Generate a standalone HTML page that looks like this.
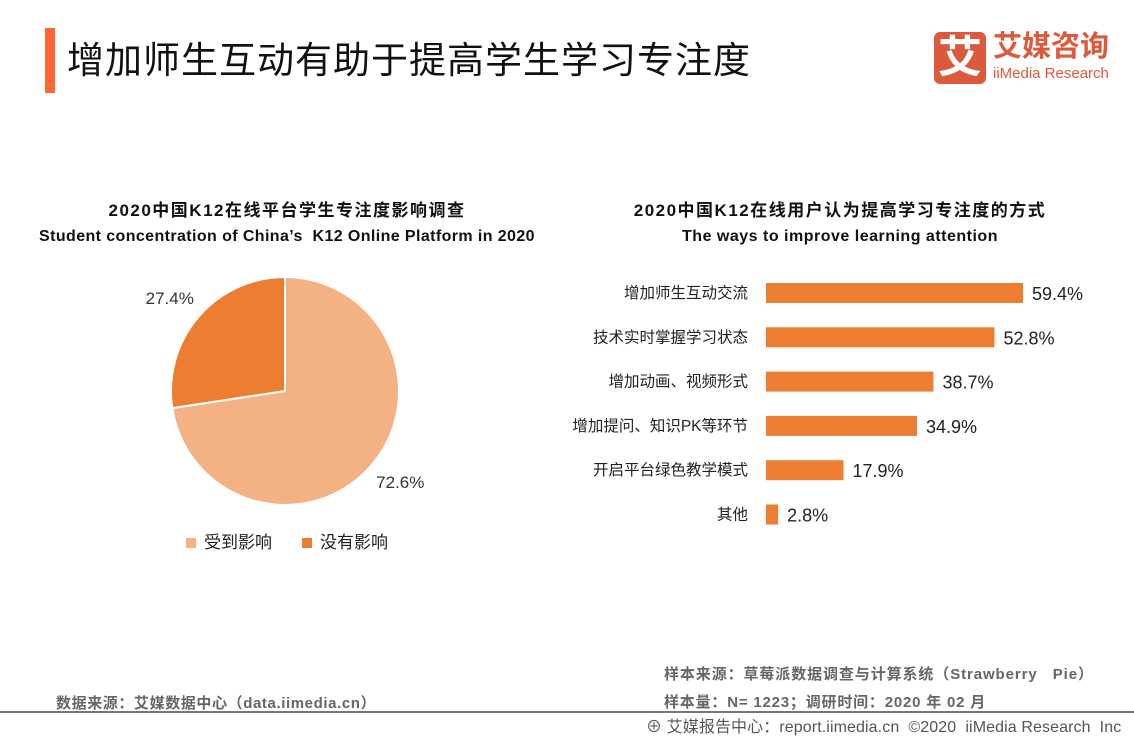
<!DOCTYPE html>
<html><head><meta charset="utf-8"><style>
body{margin:0;width:1134px;height:737px;background:#fff;overflow:hidden;position:relative;font-family:"Liberation Sans","Noto Sans CJK SC",sans-serif;}
.a{position:absolute;white-space:nowrap;}
</style></head><body>
<div class="a" style="left:45px;top:28px;width:10px;height:65px;background:#FF6633"></div>
<div class="a" style="left:67px;top:38px;font-size:37px;line-height:46px;color:#111;letter-spacing:1px">增加师生互动有助于提高学生学习专注度</div>
<div class="a" style="left:934px;top:32px;width:52px;height:52px;background:#DB5A3C;border-radius:6px;color:#fff;font-size:44px;line-height:52px;text-align:center;font-weight:bold">艾</div>
<div class="a" style="left:993px;top:30px;font-size:29px;line-height:34px;color:#DB5A3C;font-weight:bold">艾媒咨询</div>
<div class="a" style="left:993px;top:65px;font-size:15px;line-height:18px;color:#DB5A3C">iiMedia Research</div>

<div class="a" style="left:0;width:574px;text-align:center;top:196px;font-size:17px;letter-spacing:1.5px;font-weight:bold;color:#111">2020中国K12在线平台学生专注度影响调查</div>
<div class="a" style="left:0;width:574px;text-align:center;top:228px;font-size:16px;letter-spacing:0.4px;font-weight:bold;color:#111">Student concentration of China’s&nbsp; K12 Online Platform in 2020</div>
<div class="a" style="left:560px;width:560px;text-align:center;top:196px;font-size:17px;letter-spacing:1.5px;font-weight:bold;color:#111">2020中国K12在线用户认为提高学习专注度的方式</div>
<div class="a" style="left:560px;width:560px;text-align:center;top:228px;font-size:16px;letter-spacing:0.5px;font-weight:bold;color:#111">The ways to improve learning attention</div>

<svg class="a" style="left:0;top:0" width="1134" height="737" id="chart"></svg>

<div class="a" style="left:186px;top:528px;font-size:17px;color:#222"><span style="display:inline-block;width:10px;height:10px;background:#F4B183;margin-right:8px"></span>受到影响</div>
<div class="a" style="left:302px;top:528px;font-size:17px;color:#222"><span style="display:inline-block;width:10px;height:10px;background:#ED7D31;margin-right:8px"></span>没有影响</div>

<div class="a" style="left:664px;top:663px;font-size:15px;letter-spacing:0.9px;font-weight:bold;color:#666">样本来源：草莓派数据调查与计算系统（Strawberry&nbsp;&nbsp; Pie）</div>
<div class="a" style="left:664px;top:691px;font-size:15px;letter-spacing:0.8px;font-weight:bold;color:#666">样本量：N= 1223；调研时间：2020 年 02 月</div>
<div class="a" style="left:56px;top:692px;font-size:15px;letter-spacing:0.6px;font-weight:bold;color:#666">数据来源：艾媒数据中心（data.iimedia.cn）</div>
<div class="a" style="left:0;top:711px;width:1134px;height:2px;background:#777"></div>
<div class="a" style="left:646px;top:713px;font-size:16px;letter-spacing:0.1px;color:#555">⊕ 艾媒报告中心：report.iimedia.cn&nbsp; ©2020&nbsp; iiMedia Research&nbsp; Inc</div>

<script>
const pieLabels=["受到影响","没有影响"];
const pieValues=[72.6,27.4];
const pieColors=["#F4B183","#ED7D31"];
const barCategories=["增加师生互动交流","技术实时掌握学习状态","增加动画、视频形式","增加提问、知识PK等环节","开启平台绿色教学模式","其他"];
const barValues=[59.4,52.8,38.7,34.9,17.9,2.8];

const NS="http://www.w3.org/2000/svg";
const svg=document.getElementById('chart');
function mk(t,attrs){const e=document.createElementNS(NS,t);for(const k in attrs)e.setAttribute(k,attrs[k]);svg.appendChild(e);return e;}

// pie
const cx=285,cy=391,r=114;
const total=pieValues.reduce((a,b)=>a+b,0);
const labelOffsets=[[0,-8],[0,6]];
let ang=0;
pieValues.forEach((v,i)=>{
  const a0=ang,a1=ang+v/total*2*Math.PI;ang=a1;
  const p=(a)=>[cx+r*Math.sin(a),cy-r*Math.cos(a)];
  const [x0,y0]=p(a0),[x1,y1]=p(a1);
  const path=mk('path',{d:`M${cx},${cy}L${x0},${y0}A${r},${r} 0 ${a1-a0>Math.PI?1:0} 1 ${x1},${y1}Z`,fill:pieColors[i],stroke:'#fff','stroke-width':2});
  
  
  const mid=(a0+a1)/2;
  const lr=r+38;
  const t=mk('text',{x:cx+lr*Math.sin(mid),y:cy-lr*Math.cos(mid)+6+labelOffsets[i][1],'text-anchor':'middle','font-size':17,fill:'#333'});
  t.textContent=v.toFixed(1)+'%';
  
  
});

// bars
const x0=766,pxPer=257/59.4,top0=293,step=44.3,bh=20;
const xs=v=>v*pxPer;
barCategories.forEach((c,i)=>{
  const yc=top0+i*step;
  const b=mk('rect',{x:x0,y:yc-bh/2,width:xs(barValues[i]),height:bh,fill:'#ED7D31'});
  
  
  const l=mk('text',{x:748,y:yc+5,'text-anchor':'end','font-size':15.5,fill:'#222'});
  l.textContent=c;
  
  
  const v=mk('text',{x:x0+xs(barValues[i])+9,y:yc+7,'font-size':18,fill:'#222'});
  v.textContent=barValues[i].toFixed(1)+'%';
  
  
});
</script>
</body></html>
